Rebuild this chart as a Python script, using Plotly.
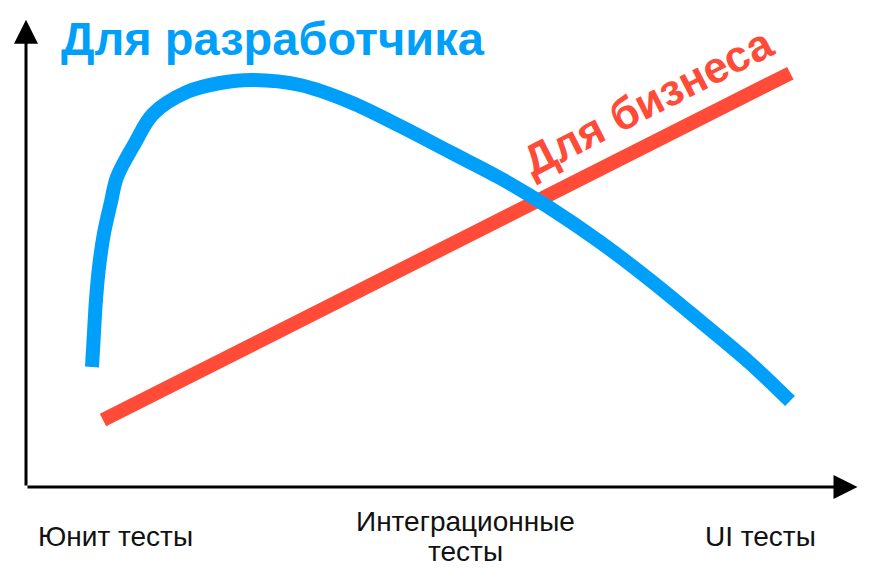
import plotly.graph_objects as go

# Categories along the horizontal axis (position in chart units 0..100)
category_labels = ["Юнит тесты", "Интеграционные<br>тесты", "UI тесты"]
category_pos = [10.74, 52.96, 88.54]

# "Для разработчика" curve (chart units)
dev_x = [7.96, 8.20, 8.44, 8.81, 9.41, 10.25, 10.98, 13.15, 15.32, 19.42, 23.40, 27.26,
         33.05, 39.08, 45.11, 51.15, 57.18, 63.21, 69.24, 75.27, 81.30, 87.33, 92.16]
dev_y = [25.81, 33.12, 40.22, 47.31, 54.62, 61.29, 66.67, 73.98, 80.22, 84.95, 86.88, 87.53,
         86.45, 82.80, 77.63, 72.04, 66.45, 60.00, 52.69, 44.52, 35.70, 26.67, 18.49]

# "Для бизнеса" line (chart units)
biz_x = [9.29, 92.2]
biz_y = [14.4, 89.0]

BLUE = "#00a0fa"
RED = "#ff4b37"

fig = go.Figure()
fig.add_trace(go.Scatter(x=biz_x, y=biz_y, mode="lines",
                         line=dict(color=RED, width=14), hoverinfo="skip"))
fig.add_trace(go.Scatter(x=dev_x, y=dev_y, mode="lines",
                         line=dict(color=BLUE, width=14, shape="spline", smoothing=1.0),
                         hoverinfo="skip"))

ann = []
# axes with arrows
ann.append(dict(x=0, y=100.5, ax=0, ay=0, xref="x", yref="y", axref="x", ayref="y",
                showarrow=True, arrowhead=2, arrowsize=1.6, arrowwidth=3,
                arrowcolor="black", standoff=0, text=""))
ann.append(dict(x=100.3, y=0, ax=0, ay=0, xref="x", yref="y", axref="x", ayref="y",
                showarrow=True, arrowhead=2, arrowsize=1.6, arrowwidth=3,
                arrowcolor="black", standoff=0, text=""))
# category labels (each line placed separately, block centred vertically)
LINE_GAP = 0.0645  # paper units between lines
for lab, pos in zip(category_labels, category_pos):
    lines = lab.split("<br>")
    n = len(lines)
    for i, ln in enumerate(lines):
        yc = -0.1075 + ((n - 1) / 2 - i) * LINE_GAP
        ann.append(dict(x=pos, y=yc, xref="x", yref="paper", text=ln, showarrow=False,
                        xanchor="center", yanchor="middle",
                        font=dict(family="Liberation Sans", size=28, color="#111111")))
# series labels
ann.append(dict(x=4.0, y=96.5, xref="x", yref="y", text="<b>Для разработчика</b>",
                showarrow=False, xanchor="left", yanchor="middle",
                font=dict(family="Liberation Sans", size=47, color=BLUE)))
ann.append(dict(x=75.0, y=82.8, xref="x", yref="y", text="<b>Для бизнеса</b>",
                showarrow=False, xanchor="center", yanchor="middle", textangle=-27,
                font=dict(family="Liberation Sans", size=44, color=RED)))

fig.update_layout(
    width=882, height=579,
    margin=dict(l=26, r=27, t=22, b=92),
    paper_bgcolor="white", plot_bgcolor="white",
    showlegend=False,
    xaxis=dict(range=[0, 100], visible=False),
    yaxis=dict(range=[0, 100], visible=False),
    annotations=ann,
)
fig.write_html("out.html")
